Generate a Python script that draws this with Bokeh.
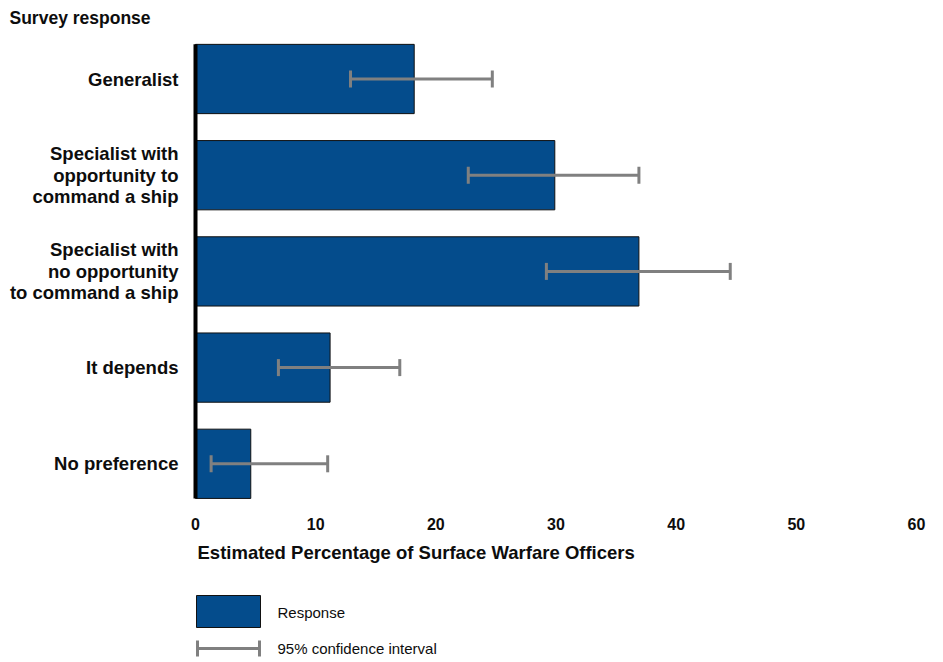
from bokeh.plotting import figure
from bokeh.models import Range1d, Whisker, TeeHead, ColumnDataSource
from bokeh.core.properties import value
from bokeh.embed import file_html
from bokeh.resources import INLINE

# ---- data ----
categories = [
    "Generalist",
    "Specialist with\nopportunity to\ncommand a ship",
    "Specialist with\nno opportunity\nto command a ship",
    "It depends",
    "No preference",
]
estimates = [18.2, 29.9, 36.9, 11.2, 4.6]
ci_lower = [12.9, 22.7, 29.2, 6.9, 1.3]
ci_upper = [24.7, 36.9, 44.5, 17.0, 11.0]
x_ticks = [0, 10, 20, 30, 40, 50, 60]
y_title = "Survey response"
x_title = "Estimated Percentage of Surface Warfare Officers"
legend_labels = ["Response", "95% confidence interval"]

# ---- style / layout ----
W, H = 943, 660
BAR = "#044C8C"
GRAY = "#808080"
TXT = "#0d0d0d"
FONT = value("Liberation Sans")
X0_PX, PX_PER_X = 195.0, 721.0 / 60.0     # pixel of value 0, pixels per unit
Y0_PX, PX_PER_Y = 78.5, 96.2              # pixel of first category, pixels per category
BAR_H = 0.72
LINE_GAP = 21.5 / PX_PER_Y


def dx(px):
    return (px - X0_PX) / PX_PER_X


def dy(px):
    return (px - Y0_PX) / PX_PER_Y


pos = list(range(len(categories)))
src = ColumnDataSource(dict(pos=pos, est=estimates, lo=ci_lower, hi=ci_upper))

p = figure(width=W, height=H, output_backend="svg", toolbar_location=None,
           x_range=Range1d(dx(0), dx(W)), y_range=Range1d(dy(H), dy(0)),
           min_border=0, min_border_left=0, min_border_right=0,
           min_border_top=0, min_border_bottom=0)
p.outline_line_color = None
p.xaxis.visible = False
p.yaxis.visible = False
p.xgrid.visible = False
p.ygrid.visible = False
p.background_fill_color = "white"
p.border_fill_color = "white"

# bars
p.hbar(y="pos", left=0, right="est", height=BAR_H, source=src,
       fill_color=BAR, line_color="#111111", line_width=1)

# vertical axis line at value 0 spanning the category band
p.segment(x0=[0], x1=[0], y0=[pos[0] - BAR_H / 2], y1=[pos[-1] + BAR_H / 2],
          line_color="black", line_width=4)

# confidence intervals
wh = Whisker(source=src, base="pos", lower="lo", upper="hi", dimension="width",
             line_color=GRAY, line_width=3, level="overlay",
             upper_head=TeeHead(size=17, line_color=GRAY, line_width=3),
             lower_head=TeeHead(size=17, line_color=GRAY, line_width=3))
p.add_layout(wh)

# x tick labels
tick_y = dy(523)
p.text(x=x_ticks, y=[tick_y] * len(x_ticks), text=[str(t) for t in x_ticks],
       text_align="center", text_baseline="middle", text_font=FONT,
       text_font_style="bold", text_font_size="16px", text_color=TXT)

# category labels (multi-line, right aligned)
lx, ly, lt = [], [], []
for c, yv in zip(categories, pos):
    lines = c.split("\n")
    n = len(lines)
    for i, ln in enumerate(lines):
        lx.append(0)
        ly.append(yv + (i - (n - 1) / 2) * LINE_GAP)
        lt.append(ln)
p.text(x=lx, y=ly, text=lt, x_offset=-17, text_align="right", text_baseline="middle",
       text_font=FONT, text_font_style="bold", text_font_size="18.5px", text_color=TXT)

# titles
p.text(x=[dx(9)], y=[dy(17)], text=[y_title], text_align="left", text_baseline="middle",
       text_font=FONT, text_font_style="bold", text_font_size="17.5px", text_color=TXT)
p.text(x=[dx(197)], y=[dy(552)], text=[x_title], text_align="left",
       text_baseline="alphabetic", text_font=FONT, text_font_style="bold",
       text_font_size="18.5px", text_color=TXT)

# legend
p.quad(left=[dx(196)], right=[dx(260)], top=[dy(595)], bottom=[dy(627)],
       fill_color=BAR, line_color="#111111", line_width=1)
p.segment(x0=[dx(197)], x1=[dx(259)], y0=[dy(648)], y1=[dy(648)],
          line_color=GRAY, line_width=3)
p.segment(x0=[dx(197), dx(259)], x1=[dx(197), dx(259)],
          y0=[dy(640), dy(640)], y1=[dy(656), dy(656)],
          line_color=GRAY, line_width=3)
p.text(x=[dx(277), dx(277)], y=[dy(612), dy(648)], text=legend_labels,
       text_align="left", text_baseline="middle", text_font=FONT,
       text_font_size="15px", text_color=TXT)

open("out.html", "w").write(file_html(p, INLINE))
